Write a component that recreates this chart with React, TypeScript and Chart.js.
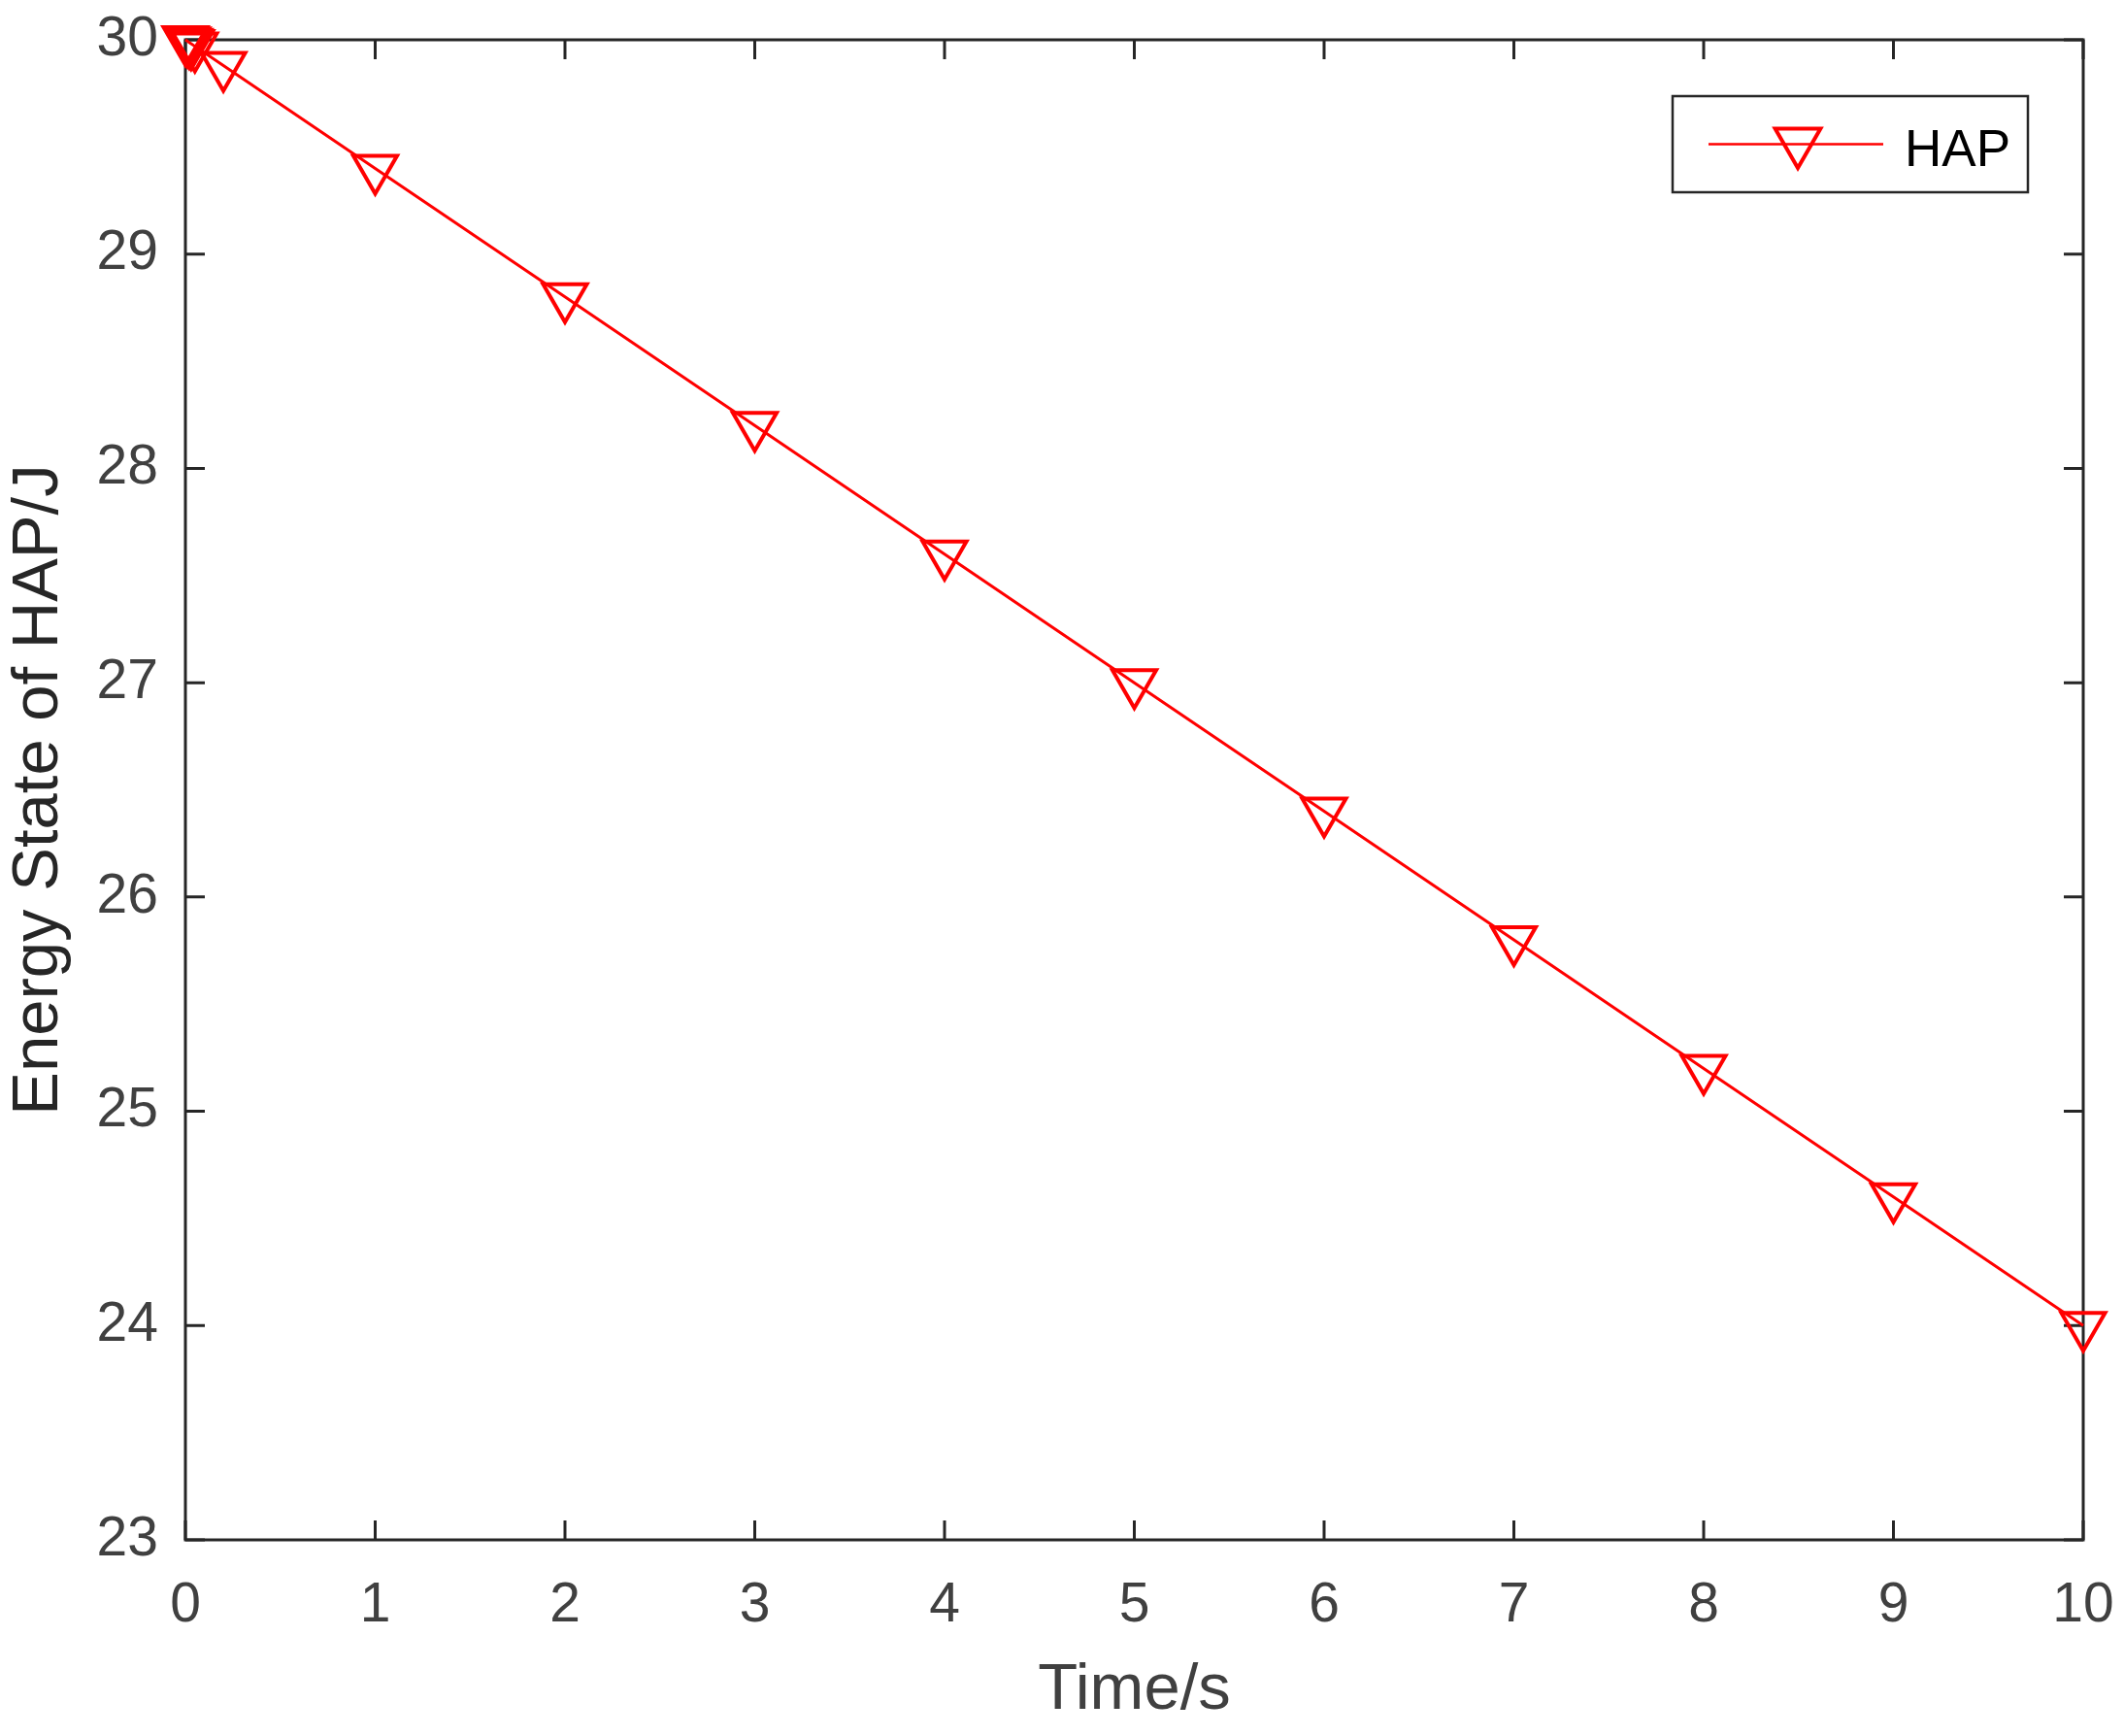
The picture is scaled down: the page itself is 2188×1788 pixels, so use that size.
import React, { useEffect, useRef } from "react";
import { Chart, registerables } from "chart.js";

Chart.register(...registerables);

const seriesLabel = "HAP";
const timeValues = [0, 0.01, 0.02, 0.03, 0.05, 0.2, 1, 2, 3, 4, 5, 6, 7, 8, 9, 10];
const energyValues = [30, 29.994, 29.988, 29.982, 29.97, 29.88, 29.4, 28.8, 28.2, 27.6, 27.0, 26.4, 25.8, 25.2, 24.6, 24.0];
const xTitle = "Time/s";
const yTitle = "Energy State of HAP/J";
const xRange = [0, 10];
const yRange = [23, 30];

const FONT = "'Liberation Sans', Arial, Helvetica, sans-serif";
const AXIS_COLOR = "#262626";
const LABEL_COLOR = "#404040";
const RED = "#ff0000";

const framePlugin = {
  id: "frameAndTicks",
  beforeDatasetsDraw(chart: any) {
    const { ctx, chartArea } = chart;
    const { left, right, top, bottom } = chartArea;
    const xs = chart.scales.x;
    const ys = chart.scales.y;
    const tl = 20;
    ctx.save();
    ctx.strokeStyle = AXIS_COLOR;
    ctx.lineWidth = 3;
    ctx.beginPath();
    xs.ticks.forEach((t: any) => {
      const px = xs.getPixelForValue(t.value);
      ctx.moveTo(px, bottom);
      ctx.lineTo(px, bottom - tl);
      ctx.moveTo(px, top);
      ctx.lineTo(px, top + tl);
    });
    ys.ticks.forEach((t: any) => {
      const py = ys.getPixelForValue(t.value);
      ctx.moveTo(left, py);
      ctx.lineTo(left + tl, py);
      ctx.moveTo(right, py);
      ctx.lineTo(right - tl, py);
    });
    ctx.stroke();
    ctx.strokeRect(left, top, right - left, bottom - top);
    ctx.restore();
  },
};

const legendPlugin = {
  id: "boxLegend",
  afterDraw(chart: any) {
    const { ctx, chartArea } = chart;
    const ds = chart.data.datasets[0];
    const w = 366;
    const h = 99;
    const x0 = chartArea.right - 57 - w;
    const y0 = chartArea.top + 58;
    ctx.save();
    ctx.fillStyle = "#ffffff";
    ctx.fillRect(x0, y0, w, h);
    ctx.strokeStyle = AXIS_COLOR;
    ctx.lineWidth = 2.5;
    ctx.strokeRect(x0, y0, w, h);
    const cy = y0 + h / 2;
    ctx.strokeStyle = ds.borderColor;
    ctx.lineWidth = 2.5;
    ctx.beginPath();
    ctx.moveTo(x0 + 37, cy);
    ctx.lineTo(x0 + 217, cy);
    ctx.stroke();
    const mx = x0 + 129;
    const r = 27;
    const my = cy - 2.5;
    ctx.lineWidth = 4;
    ctx.beginPath();
    let rad = Math.PI;
    for (let i = 0; i < 3; i++) {
      const px = mx + Math.sin(rad) * r;
      const py = my - Math.cos(rad) * r;
      if (i === 0) ctx.moveTo(px, py);
      else ctx.lineTo(px, py);
      rad += (2 * Math.PI) / 3;
    }
    ctx.closePath();
    ctx.stroke();
    ctx.fillStyle = "#000000";
    ctx.font = `53px ${FONT}`;
    ctx.textBaseline = "alphabetic";
    ctx.textAlign = "left";
    ctx.fillText(ds.label, x0 + 239, y0 + 72);
    ctx.restore();
  },
};

export default function App() {
  const ref = useRef<HTMLCanvasElement | null>(null);

  useEffect(() => {
    if (!ref.current) return;
    const data = timeValues.map((t, i) => ({ x: t, y: energyValues[i] }));
    const chart = new Chart(ref.current, {
      type: "line",
      data: {
        datasets: [
          {
            label: seriesLabel,
            data,
            borderColor: RED,
            borderWidth: 3,
            backgroundColor: "rgba(0,0,0,0)",
            pointStyle: "triangle",
            pointRotation: 180,
            pointRadius: 26,
            pointBorderWidth: 4,
            pointBorderColor: RED,
            pointBackgroundColor: "rgba(0,0,0,0)",
            tension: 0,
            fill: false,
            clip: false as any,
          },
        ],
      },
      options: {
        responsive: false,
        animation: false,
        devicePixelRatio: 1,
        layout: { padding: { left: 0, top: 41, right: 42, bottom: 0 } },
        plugins: {
          legend: { display: false },
          tooltip: { enabled: false },
        },
        scales: {
          x: {
            type: "linear",
            min: xRange[0],
            max: xRange[1],
            grid: { display: false, drawTicks: false },
            border: { display: false },
            ticks: {
              stepSize: 1,
              maxRotation: 0,
              autoSkip: false,
              padding: 34,
              color: LABEL_COLOR,
              font: { family: FONT, size: 57 },
            },
            title: {
              display: true,
              text: xTitle,
              color: LABEL_COLOR,
              font: { family: FONT, size: 67 },
              padding: { top: 0, bottom: 6 },
            },
            afterFit(scale: any) {
              scale.height = 202;
              scale.paddingLeft = 0;
              scale.paddingRight = 0;
            },
          },
          y: {
            type: "linear",
            min: yRange[0],
            max: yRange[1],
            grid: { display: false, drawTicks: false },
            border: { display: false },
            ticks: {
              stepSize: 1,
              padding: 28,
              color: LABEL_COLOR,
              font: { family: FONT, size: 57 },
            },
            title: {
              display: true,
              text: yTitle,
              color: AXIS_COLOR,
              font: { family: FONT, size: 67 },
              padding: { top: 0, bottom: 0 },
            },
            afterFit(scale: any) {
              scale.width = 191;
              scale.paddingTop = 0;
              scale.paddingBottom = 0;
            },
          },
        },
      },
      plugins: [framePlugin, legendPlugin],
    });
    return () => chart.destroy();
  }, []);

  return (
    <div style={{ position: "absolute", left: 0, top: 0, width: 2188, height: 1788, background: "#fff" }}>
      <canvas ref={ref} width={2188} height={1788} style={{ width: 2188, height: 1788, display: "block" }} />
    </div>
  );
}
